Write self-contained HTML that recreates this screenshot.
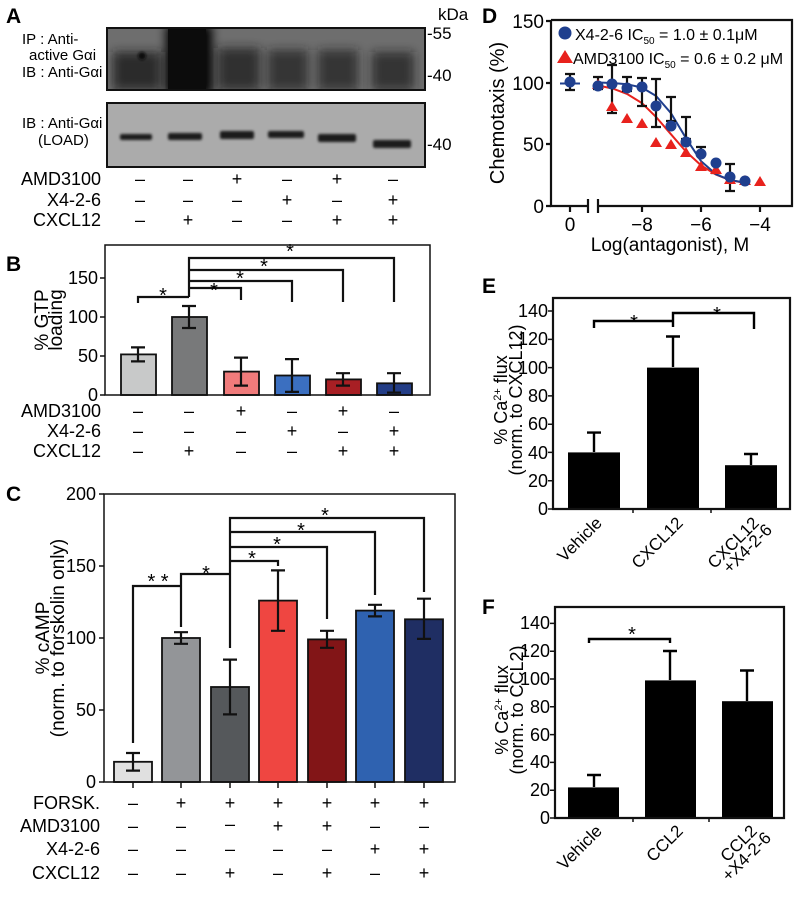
<!DOCTYPE html>
<html><head><meta charset="utf-8"><style>
body{margin:0;background:#fff}
svg{display:block;font-family:"Liberation Sans",Arial,sans-serif}
</style></head><body>
<svg width="800" height="897" viewBox="0 0 800 897" xmlns="http://www.w3.org/2000/svg">
<defs>
<filter id="bl" x="-50%" y="-50%" width="200%" height="200%"><feGaussianBlur stdDeviation="5"/></filter>
<filter id="bl2" x="-50%" y="-50%" width="200%" height="200%"><feGaussianBlur stdDeviation="1.2"/></filter>
<clipPath id="c1"><rect x="107" y="28" width="318" height="62"/></clipPath>
<clipPath id="c2"><rect x="107" y="103" width="318" height="64"/></clipPath>
</defs>
<g font-weight="bold" font-size="21">
<text x="6" y="23">A</text><text x="6" y="271">B</text><text x="6" y="501">C</text>
<text x="482" y="23">D</text><text x="482" y="293">E</text><text x="482" y="614">F</text>
</g>
<!-- Panel A -->
<g font-size="15">
<text x="22" y="44">IP : Anti-</text>
<text x="29" y="60">active Gαi</text>
<text x="22" y="77">IB : Anti-Gαi</text>
<text x="22" y="128">IB : Anti-Gαi</text>
<text x="38" y="145">(LOAD)</text>
<text x="427" y="39" font-size="17">-55</text><text x="427" y="81" font-size="17">-40</text><text x="427" y="150" font-size="17">-40</text>
<text x="438" y="20" font-size="17">kDa</text>
</g>
<g clip-path="url(#c1)">
<rect x="107" y="28" width="318" height="62" fill="#6e6e6e"/>
<g filter="url(#bl)" fill="#202020">
<rect x="113" y="52" width="48" height="38" opacity=".85"/>
<rect x="166" y="25" width="46" height="70" fill="#050505"/>
<rect x="218" y="48" width="42" height="42" opacity=".8"/>
<rect x="268" y="50" width="40" height="40" opacity=".75"/>
<rect x="318" y="50" width="40" height="40" opacity=".75"/>
<rect x="372" y="52" width="42" height="38" opacity=".7"/>
</g>
<circle cx="142" cy="56" r="4" fill="#111" filter="url(#bl2)"/>
<rect x="168" y="28" width="38" height="62" fill="#0c0c0c"/>
</g>
<rect x="107" y="28" width="318" height="62" fill="none" stroke="#111" stroke-width="2"/>
<g clip-path="url(#c2)">
<rect x="107" y="103" width="318" height="64" fill="#ababab"/>
<g filter="url(#bl2)" fill="#1e1e1e">
<rect x="120" y="134" width="32" height="6" rx="2"/>
<rect x="168" y="133" width="34" height="7" rx="2"/>
<rect x="220" y="131" width="34" height="8" rx="2"/>
<rect x="268" y="131" width="36" height="7" rx="2"/>
<rect x="318" y="134" width="38" height="8" rx="2"/>
<rect x="373" y="140" width="38" height="8" rx="2"/>
</g>
</g>
<rect x="107" y="103" width="318" height="64" fill="none" stroke="#111" stroke-width="2"/>
<g font-size="18">
<text x="101" y="185" text-anchor="end">AMD3100</text>
<text x="101" y="206" text-anchor="end">X4-2-6</text>
<text x="101" y="226" text-anchor="end">CXCL12</text>
</g>
<g font-size="18" text-anchor="middle">
<text x="140" y="185">–</text><text x="188" y="185">–</text><text x="237" y="185">+</text><text x="287" y="185">–</text><text x="337" y="185">+</text><text x="393" y="185">–</text>
<text x="140" y="206">–</text><text x="188" y="206">–</text><text x="237" y="206">–</text><text x="287" y="206">+</text><text x="337" y="206">–</text><text x="393" y="206">+</text>
<text x="140" y="226">–</text><text x="188" y="226">+</text><text x="237" y="226">–</text><text x="287" y="226">–</text><text x="337" y="226">+</text><text x="393" y="226">+</text>
</g>
<!-- Panel B -->
<g stroke="#111" stroke-width="1.8">
<rect x="121" y="354.4" width="35" height="40.6" fill="#c8c9c9"/>
<rect x="172" y="317" width="35" height="78" fill="#78797a"/>
<rect x="224" y="371.6" width="35" height="23.4" fill="#f07b7b"/>
<rect x="275" y="375.5" width="35" height="19.5" fill="#3b6fc0"/>
<rect x="326" y="379.4" width="35" height="15.6" fill="#a81f24"/>
<rect x="377" y="383.3" width="35" height="11.7" fill="#233d86"/>
</g>
<g stroke="#111" stroke-width="2.2" fill="none">
<path d="M138 347.4V361.4M131 347.4h14M131 361.4h14"/>
<path d="M189 306V328M182 306h14M182 328h14"/>
<path d="M241 357.6V385.6M234 357.6h14M234 385.6h14"/>
<path d="M292 359.1V391.9M285 359.1h14M285 391.9h14"/>
<path d="M343 373.2V385.6M336 373.2h14M336 385.6h14"/>
<path d="M394 373.2V392.6M387 373.2h14M387 392.6h14"/>
<path d="M138 303V297H189M189 297V258H394V302M189 270H343V302M189 281H292V302M189 288H241V300"/>
</g>
<g font-size="20" text-anchor="middle">
<text x="163" y="302">*</text><text x="214" y="297">*</text><text x="240" y="285">*</text><text x="264" y="273">*</text><text x="290" y="258">*</text>
</g>
<path d="M105 245V395H430V245Z" fill="none" stroke="#111" stroke-width="1.5"/>
<g stroke="#111" stroke-width="1.5"><path d="M100 395h5M100 356h5M100 317h5M100 278h5"/></g>
<g font-size="18" text-anchor="end">
<text x="98" y="401">0</text><text x="98" y="362">50</text><text x="98" y="323">100</text><text x="98" y="284">150</text>
</g>
<g font-size="19" text-anchor="middle" transform="translate(48,320) rotate(-90)">
<text x="0" y="0">% GTP</text><text x="0" y="14">loading</text>
</g>
<g font-size="18">
<text x="101" y="417" text-anchor="end">AMD3100</text>
<text x="101" y="437" text-anchor="end">X4-2-6</text>
<text x="101" y="457" text-anchor="end">CXCL12</text>
</g>
<g font-size="18" text-anchor="middle">
<text x="138" y="417">–</text><text x="189" y="417">–</text><text x="241" y="417">+</text><text x="292" y="417">–</text><text x="343" y="417">+</text><text x="394" y="417">–</text>
<text x="138" y="437">–</text><text x="189" y="437">–</text><text x="241" y="437">–</text><text x="292" y="437">+</text><text x="343" y="437">–</text><text x="394" y="437">+</text>
<text x="138" y="457">–</text><text x="189" y="457">+</text><text x="241" y="457">–</text><text x="292" y="457">–</text><text x="343" y="457">+</text><text x="394" y="457">+</text>
</g>
<!-- Panel C -->
<g stroke="#111" stroke-width="1.8">
<rect x="114" y="761.8" width="38" height="20.2" fill="#e0e0e0"/>
<rect x="162" y="638" width="38" height="144" fill="#939598"/>
<rect x="211" y="687" width="38" height="95" fill="#55585b"/>
<rect x="259" y="600.6" width="38" height="181.4" fill="#ef4641"/>
<rect x="308" y="639.4" width="38" height="142.6" fill="#821517"/>
<rect x="356" y="610.6" width="38" height="171.4" fill="#2f62b0"/>
<rect x="405" y="619.3" width="38" height="162.7" fill="#1f2e63"/>
</g>
<g stroke="#111" stroke-width="2.2" fill="none">
<path d="M133 753V770.6M126 753h14M126 770.6h14"/>
<path d="M181 632.2V643.8M174 632.2h14M174 643.8h14"/>
<path d="M230 659.6V714.4M223 659.6h14M223 714.4h14"/>
<path d="M278 570.4V630.8M271 570.4h14M271 630.8h14"/>
<path d="M327 630.8V647.8M320 630.8h14M320 647.8h14"/>
<path d="M375 604.8V616.4M368 604.8h14M368 616.4h14"/>
<path d="M424 598.7V638.9M417 598.7h14M417 638.9h14"/>
<path d="M133 743V586H181V627M181 586V574H230M230 648V518H424V592M230 532H375V595M230 547H327V619M230 561H278V566"/>
</g>
<g font-size="20" text-anchor="middle">
<text x="158" y="588">* *</text><text x="206" y="580">*</text><text x="252" y="565">*</text><text x="277" y="551">*</text><text x="301" y="537">*</text><text x="325" y="522">*</text>
</g>
<path d="M104 494V782H455V494Z" fill="none" stroke="#111" stroke-width="1.5"/>
<g stroke="#111" stroke-width="1.5"><path d="M99 782h5M99 710h5M99 638h5M99 566h5M99 494h5M133 782v6M181 782v6M230 782v6M278 782v6M327 782v6M375 782v6M424 782v6"/></g>
<g font-size="18" text-anchor="end">
<text x="96" y="788">0</text><text x="96" y="716">50</text><text x="96" y="644">100</text><text x="96" y="572">150</text><text x="96" y="500">200</text>
</g>
<g font-size="19" text-anchor="middle" transform="translate(49,638) rotate(-90)">
<text x="0" y="0">% cAMP</text><text x="0" y="15">(norm. to forskolin only)</text>
</g>
<g font-size="18" text-anchor="end">
<text x="100" y="809">FORSK.</text><text x="100" y="832">AMD3100</text><text x="100" y="855">X4-2-6</text><text x="100" y="879">CXCL12</text>
</g>
<g font-size="18" text-anchor="middle">
<text x="133" y="809">–</text><text x="181" y="809">+</text><text x="230" y="809">+</text><text x="278" y="809">+</text><text x="327" y="809">+</text><text x="375" y="809">+</text><text x="424" y="809">+</text>
<text x="133" y="832">–</text><text x="181" y="832">–</text><text x="230" y="830">–</text><text x="278" y="832">+</text><text x="327" y="832">+</text><text x="375" y="832">–</text><text x="424" y="832">–</text>
<text x="133" y="855">–</text><text x="181" y="855">–</text><text x="230" y="855">–</text><text x="278" y="855">–</text><text x="327" y="855">–</text><text x="375" y="855">+</text><text x="424" y="855">+</text>
<text x="133" y="879">–</text><text x="181" y="879">–</text><text x="230" y="879">+</text><text x="278" y="879">–</text><text x="327" y="879">+</text><text x="375" y="879">–</text><text x="424" y="879">+</text>
</g>
<!-- Panel D -->
<path d="M551 20V206H588M598 206H792V20H551" fill="none" stroke="#111" stroke-width="2.2"/>
<g stroke="#111" stroke-width="2.2"><path d="M546 206h5M546 144h5M546 83h5M546 21h5M570 206v6M642 206v6M701 206v6M760 206v6M588 199v14M598 199v14"/></g>
<g font-size="19" text-anchor="end">
<text x="544" y="213">0</text><text x="544" y="151">50</text><text x="544" y="90">100</text><text x="544" y="28">150</text>
</g>
<g font-size="19" text-anchor="middle">
<text x="570" y="231">0</text><text x="642" y="231">−8</text><text x="701" y="231">−6</text><text x="760" y="231">−4</text>
<text x="670" y="251">Log(antagonist), M</text>
</g>
<text font-size="20" text-anchor="middle" transform="translate(504,113) rotate(-90)">Chemotaxis (%)</text>
<polyline fill="none" stroke="#e8221d" stroke-width="2" points="598,85.5 612.5,88.5 627,93.9 642,103.2 656,116.9 671,134.3 686,151.6 701,165.3 716,174.6 730,180 745,183"/>
<polyline fill="none" stroke="#1f3f8e" stroke-width="2" points="598,82.5 612.5,83 627,84.3 642,87.6 656,95.9 671,113.2 686,138.2 701,161.1 716,174.3 730,180.1 745,182.5"/>
<path d="M560 83.5h20" stroke="#1f3f8e" stroke-width="2"/>
<g stroke="#111" stroke-width="2.2" fill="none">
<path d="M570 74V90M565 74h10M565 90h10"/>
<path d="M598 77V89M593 77h10M593 89h10"/>
<path d="M612 65V113M607 65h10M607 113h10"/>
<path d="M627 77V91M622 77h10M622 91h10"/>
<path d="M642 78V106M637 78h10M637 106h10"/>
<path d="M656 79V127M651 79h10M651 127h10"/>
<path d="M671 97V121M666 97h10M666 121h10"/>
<path d="M686 117V139M681 117h10M681 139h10"/>
<path d="M701 147V155M696 147h10M696 155h10"/>
<path d="M716 163V173M711 163h10M711 173h10"/>
<path d="M730 164V191M725 164h10M725 191h10"/>
</g>
<g fill="#e8221d">
<polygon points="598,79 604,89 592,89"/><polygon points="612,101 618,111 606,111"/><polygon points="627,113 633,123 621,123"/><polygon points="642,118 648,128 636,128"/><polygon points="656,137 662,147 650,147"/><polygon points="671,139 677,149 665,149"/><polygon points="686,147 692,157 680,157"/><polygon points="701,161 707,171 695,171"/><polygon points="716,164 722,174 710,174"/><polygon points="730,174 736,184 724,184"/><polygon points="745,175 751,185 739,185"/><polygon points="760,176 766,186 754,186"/>
</g>
<g fill="#1f3f8e">
<circle cx="570" cy="82" r="5.5"/><circle cx="598" cy="86" r="5.5"/><circle cx="612" cy="84" r="5.5"/><circle cx="627" cy="88" r="5.5"/><circle cx="642" cy="87" r="5.5"/><circle cx="656" cy="106" r="5.5"/><circle cx="671" cy="126" r="5.5"/><circle cx="686" cy="142" r="5.5"/><circle cx="701" cy="154" r="5.5"/><circle cx="716" cy="163" r="5.5"/><circle cx="730" cy="177" r="5.5"/><circle cx="745" cy="181" r="5.5"/>
</g>
<circle cx="565" cy="33" r="6.5" fill="#1f3f8e"/>
<polygon points="565,50 573,63 557,63" fill="#e8221d"/>
<text x="575" y="40" font-size="16">X4-2-6 IC<tspan font-size="10" dy="4">50</tspan><tspan dy="-4"> = 1.0 ± 0.1μM</tspan></text>
<text x="573" y="64" font-size="16">AMD3100 IC<tspan font-size="10" dy="4">50</tspan><tspan dy="-4"> = 0.6 ± 0.2 μM</tspan></text>
<!-- Panel E -->
<g fill="#000">
<rect x="568" y="452.4" width="52" height="56.6"/><rect x="647" y="367.6" width="52" height="141.4"/><rect x="725" y="465.2" width="52" height="43.8"/>
</g>
<g stroke="#000" stroke-width="2.4" fill="none">
<path d="M594 452V432.6M587 432.6h14M673 367V336.5M666 336.5h14M751 465V454M744 454h14"/>
<path d="M594 328V321H673V313H754V329M673 321V327"/>
</g>
<g font-size="20" text-anchor="middle"><text x="634" y="329">*</text><text x="717" y="321">*</text></g>
<path d="M553 298V509H790V298Z" fill="none" stroke="#111" stroke-width="2.2"/>
<g stroke="#111" stroke-width="1.5"><path d="M548 509h5M548 480.7h5M548 452.4h5M548 424.2h5M548 395.9h5M548 367.6h5M548 339.4h5M548 311h5M633 509v4M711 509v4"/></g>
<g font-size="18" text-anchor="end">
<text x="548" y="515">0</text><text x="548" y="487">20</text><text x="548" y="459">40</text><text x="548" y="430">60</text><text x="548" y="402">80</text><text x="548" y="374">100</text><text x="548" y="345">120</text><text x="548" y="317">140</text>
</g>
<g font-size="18" text-anchor="middle" transform="translate(507,400) rotate(-90)">
<text x="0" y="0">% Ca<tspan font-size="11" dy="-6">2+</tspan><tspan dy="6"> flux</tspan></text><text x="0" y="15">(norm. to CXCL12)</text>
</g>
<g font-size="17" text-anchor="end">
<text transform="translate(603,524) rotate(-45)">Vehicle</text>
<text transform="translate(684,524) rotate(-45)">CXCL12</text>
<text transform="translate(760,524) rotate(-45)">CXCL12</text>
<text transform="translate(773,531) rotate(-45)">+X4-2-6</text>
</g>
<!-- Panel F -->
<g fill="#000">
<rect x="568" y="787.4" width="51" height="30.6"/><rect x="645" y="680.4" width="51" height="137.6"/><rect x="722" y="701.2" width="51" height="116.8"/>
</g>
<g stroke="#000" stroke-width="2.4" fill="none">
<path d="M594 787V775M587 775h14M670 680V651M663 651h14M747 701V670.5M740 670.5h14"/>
<path d="M589 643V639H670V643"/>
</g>
<text x="632" y="641" font-size="20" text-anchor="middle">*</text>
<path d="M555 607V818H784V607Z" fill="none" stroke="#111" stroke-width="2.2"/>
<g stroke="#111" stroke-width="1.5"><path d="M550 818h5M550 790.2h5M550 762.4h5M550 734.6h5M550 706.8h5M550 679h5M550 651.2h5M550 623.4h5M633 818v4M709 818v4"/></g>
<g font-size="18" text-anchor="end">
<text x="550" y="824">0</text><text x="550" y="796">20</text><text x="550" y="768">40</text><text x="550" y="741">60</text><text x="550" y="713">80</text><text x="550" y="685">100</text><text x="550" y="657">120</text><text x="550" y="629">140</text>
</g>
<g font-size="18" text-anchor="middle" transform="translate(508,710) rotate(-90)">
<text x="0" y="0">% Ca<tspan font-size="11" dy="-6">2+</tspan><tspan dy="6"> flux</tspan></text><text x="0" y="15">(norm. to CCL2)</text>
</g>
<g font-size="17" text-anchor="end">
<text transform="translate(603,832) rotate(-45)">Vehicle</text>
<text transform="translate(684,832) rotate(-45)">CCL2</text>
<text transform="translate(758,832) rotate(-45)">CCL2</text>
<text transform="translate(772,839) rotate(-45)">+X4-2-6</text>
</g>
</svg>
</body></html>
